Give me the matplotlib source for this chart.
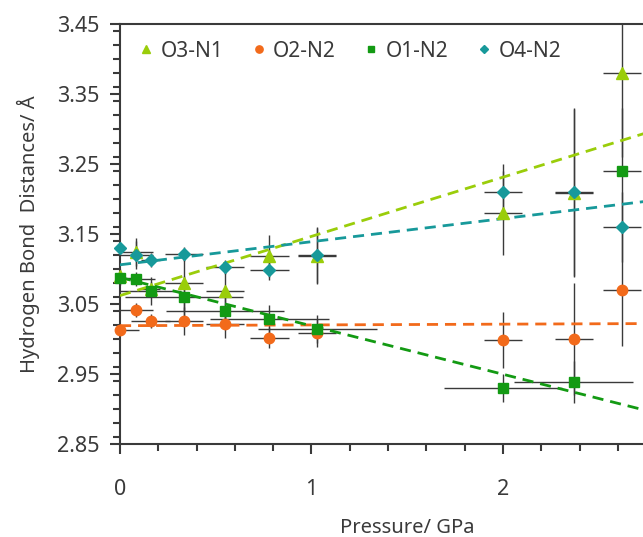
import numpy as np
import matplotlib.pyplot as plt
from matplotlib.ticker import MultipleLocator

plt.rcParams['font.family'] = ['Noto Sans', 'DejaVu Sans']

# Pressures (GPa) shared by all four contacts
pressure = [0.0, 0.084, 0.16, 0.334, 0.548, 0.78, 1.03, 2.0, 2.37, 2.62]

# O...N distances (Angstrom) and their uncertainties
o3_n1 = [3.090, 3.124, 3.072, 3.080, 3.069, 3.119, 3.119, 3.180, 3.208, 3.380]
o3_n1_xerr = [0.02, 0.09, 0.05, 0.10, 0.10, 0.10, 0.10, 0.10, 0.10, 0.10]
o3_n1_yerr = [0.01, 0.02, 0.01, 0.04, 0.04, 0.03, 0.04, 0.06, 0.12, 0.12]

o2_n2 = [3.013, 3.042, 3.025, 3.026, 3.022, 3.002, 3.009, 2.999, 3.000, 3.070]
o2_n2_xerr = [0.10, 0.09, 0.10, 0.10, 0.10, 0.10, 0.10, 0.10, 0.10, 0.10]
o2_n2_yerr = [0.005, 0.01, 0.01, 0.02, 0.02, 0.015, 0.02, 0.04, 0.08, 0.08]

o1_n2 = [3.087, 3.085, 3.069, 3.060, 3.040, 3.028, 3.014, 2.930, 2.939, 3.240]
o1_n2_xerr = [0.10, 0.10, 0.16, 0.31, 0.31, 0.31, 0.31, 0.31, 0.31, 0.10]
o1_n2_yerr = [0.01, 0.01, 0.02, 0.03, 0.02, 0.02, 0.02, 0.02, 0.03, 0.09]

o4_n2 = [3.130, 3.120, 3.113, 3.121, 3.103, 3.099, 3.120, 3.210, 3.210, 3.160]
o4_n2_xerr = [0.02, 0.09, 0.05, 0.10, 0.10, 0.10, 0.10, 0.10, 0.10, 0.10]
o4_n2_yerr = [0.005, 0.02, 0.01, 0.01, 0.01, 0.015, 0.04, 0.04, 0.12, 0.05]

# linear trends: (intercept, slope)
trend_o3_n1 = (3.062, 0.0846)
trend_o2_n2 = (3.019, 0.0011)
trend_o1_n2 = (3.088, -0.0692)
trend_o4_n2 = (3.106, 0.033)

x_ticks = [0, 1, 2, 3]
x_ticklabels = ['0', '1', '2', '']

series = [
    ('O3-N1', o3_n1, o3_n1_xerr, o3_n1_yerr, trend_o3_n1, '#9acd0a', '^', 8),
    ('O2-N2', o2_n2, o2_n2_xerr, o2_n2_yerr, trend_o2_n2, '#f26a1b', 'o', 7.5),
    ('O1-N2', o1_n2, o1_n2_xerr, o1_n2_yerr, trend_o1_n2, '#139a13', 's', 7),
    ('O4-N2', o4_n2, o4_n2_xerr, o4_n2_yerr, trend_o4_n2, '#17999a', 'D', 6.5),
]

fig = plt.figure(figsize=(6.43, 5.37), dpi=100)
# axes run past the right edge of the figure
ax = fig.add_axes([0.1866, 0.1732, 0.8935, 0.7821])

xfit = np.linspace(0, 3, 50)
for name, y, xe, ye, (b, m), col, mk, ms in series:
    ax.errorbar(pressure, y, xerr=xe, yerr=ye, fmt='none', ecolor='#3a3a3a',
                elinewidth=1.0, capsize=0, zorder=2)
for name, y, xe, ye, (b, m), col, mk, ms in series:
    ax.plot(xfit, b + m * xfit, color=col, lw=2, ls=(0, (4, 2.5)), zorder=3)
for name, y, xe, ye, (b, m), col, mk, ms in series:
    ax.plot(pressure, y, ls='none', marker=mk, color=col, ms=ms,
            mec=col, label=name, zorder=4, clip_on=False)

ax.set_xlim(0, 3)
ax.set_ylim(2.85, 3.45)
ax.set_xticks(x_ticks, x_ticklabels)
ax.xaxis.set_minor_locator(MultipleLocator(0.2))
ax.yaxis.set_minor_locator(MultipleLocator(0.02))
ax.set_yticks(np.arange(2.85, 3.46, 0.1))
ax.set_yticklabels(['%.2f' % v for v in np.arange(2.85, 3.46, 0.1)])

for s in ax.spines.values():
    s.set_linewidth(1.5)
    s.set_color('#3a3a3a')
ax.tick_params(which='both', direction='out', color='#3a3a3a', width=1.5,
               labelsize=15.5, labelcolor='#3a3a3a')
ax.tick_params(which='major', length=7, pad=8)
ax.tick_params(axis='x', which='major', pad=18)
ax.tick_params(which='minor', length=5)

ax.set_xlabel('Pressure/ GPa', fontsize=14.5, color='#3a3a3a', labelpad=13)
ax.set_ylabel('Hydrogen Bond  Distances/ Å', fontsize=14.5, color='#3a3a3a', labelpad=12)

leg = ax.legend(loc='upper left', ncol=4, frameon=False, fontsize=15,
                markerscale=0.7, handlelength=0.6, handletextpad=0.4,
                columnspacing=1.4, borderaxespad=0.4,
                bbox_to_anchor=(0.005, 1.0))
for t in leg.get_texts():
    t.set_color('#3a3a3a')

fig.savefig('out.png', dpi=100)
